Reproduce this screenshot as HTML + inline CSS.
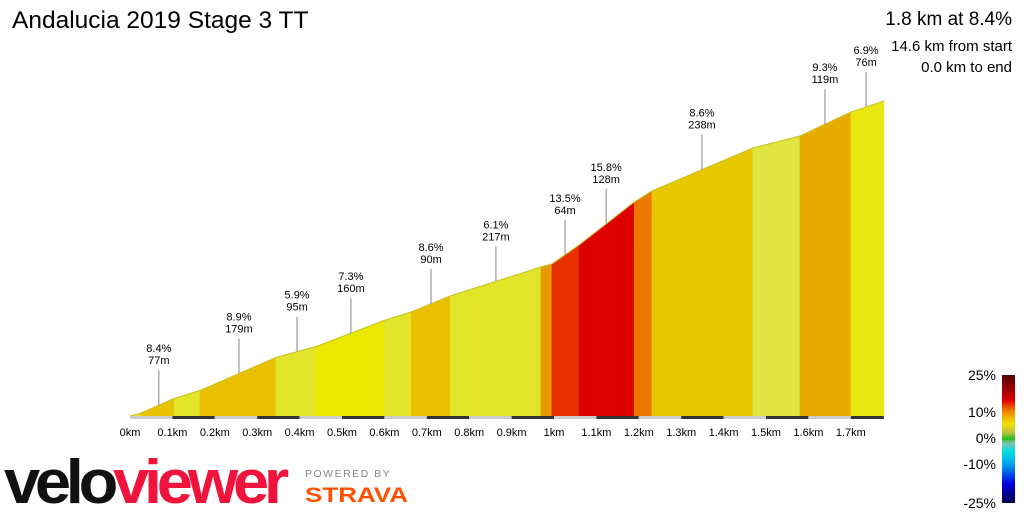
<!DOCTYPE html>
<html><head><meta charset="utf-8">
<style>
html,body{margin:0;padding:0;background:#fff;width:1024px;height:512px;overflow:hidden;font-family:"Liberation Sans",sans-serif}
</style></head>
<body>
<svg id="chart" width="1024" height="512" viewBox="0 0 1024 512" xmlns="http://www.w3.org/2000/svg" font-family="Liberation Sans, sans-serif">
<defs>
<linearGradient id="grad" x1="0" y1="1" x2="0" y2="0">
<stop offset="0" stop-color="#00004a"/>
<stop offset="0.15" stop-color="#0000e0"/>
<stop offset="0.3" stop-color="#00a0f0"/>
<stop offset="0.4" stop-color="#00e0e0"/>
<stop offset="0.47" stop-color="#80c0b0"/>
<stop offset="0.5" stop-color="#20c020"/>
<stop offset="0.55" stop-color="#c0c040"/>
<stop offset="0.62" stop-color="#f0e000"/>
<stop offset="0.72" stop-color="#f08000"/>
<stop offset="0.8" stop-color="#e00000"/>
<stop offset="1" stop-color="#500000"/>
</linearGradient>
</defs>
<text x="12" y="28" font-size="24.5" fill="#000">Andalucia 2019 Stage 3 TT</text>
<text x="1012" y="25" font-size="19" text-anchor="end" fill="#000">1.8 km at 8.4%</text>
<text x="1012" y="51" font-size="15" text-anchor="end" fill="#000">14.6 km from start</text>
<text x="1012" y="72" font-size="15" text-anchor="end" fill="#000">0.0 km to end</text>
<g id="profile"></g>
<g id="axis"></g>
<g id="labels"></g>
<g>
<rect x="1002" y="375" width="13" height="128" fill="url(#grad)"/>
<text x="996" y="380" font-size="14" text-anchor="end">25%</text>
<text x="996" y="417" font-size="14" text-anchor="end">10%</text>
<text x="996" y="443" font-size="14" text-anchor="end">0%</text>
<text x="996" y="469" font-size="14" text-anchor="end">-10%</text>
<text x="996" y="508" font-size="14" text-anchor="end">-25%</text>
</g>
<g>
<text x="4" y="503" font-size="62" font-weight="bold" letter-spacing="-5" textLength="280" lengthAdjust="spacingAndGlyphs"><tspan fill="#111">velo</tspan><tspan fill="#f0143c">viewer</tspan></text>
</g>
<text x="305" y="477" font-size="10.5" fill="#888" letter-spacing="1.5">POWERED BY</text>
<text x="305" y="502" font-size="21" font-weight="bold" fill="#fc5200" textLength="103" lengthAdjust="spacingAndGlyphs">STRAVA</text>
</svg>
<script>
const distKm = [0,0.026,0.104,0.165,0.344,0.439,0.599,0.663,0.755,0.969,0.995,1.059,1.189,1.231,1.469,1.580,1.700,1.778];
const elevM = [0,1.4,8.3,12.1,27.8,33.0,45.4,49.4,57.0,70.8,72.2,81.2,101.6,106.9,127.3,133.0,144.4,149.6];
const segColors = ["#e2e040","#e8c400","#e3e52b","#e8c000","#e3e52b","#ebe800","#e3e52b","#e8c000","#e3e52b","#e89a00","#e83000","#de0000","#ec7800","#e8c800","#e0e540","#e8ac00","#e8e810"];
const tickKm = [0,0.1,0.2,0.3,0.4,0.5,0.6,0.7,0.8,0.9,1,1.1,1.2,1.3,1.4,1.5,1.6,1.7];
const tickLabels = ["0km","0.1km","0.2km","0.3km","0.4km","0.5km","0.6km","0.7km","0.8km","0.9km","1km","1.1km","1.2km","1.3km","1.4km","1.5km","1.6km","1.7km"];
const markKm = [0.068,0.257,0.394,0.521,0.710,0.863,1.026,1.123,1.349,1.639,1.736];
const markPct = ["8.4%","8.9%","5.9%","7.3%","8.6%","6.1%","13.5%","15.8%","8.6%","9.3%","6.9%"];
const markLen = ["77m","179m","95m","160m","90m","217m","64m","128m","238m","119m","76m"];

const NS="http://www.w3.org/2000/svg";
const X0=130, KPX=424, Y0=416, MPX=2.105;
const xs=d=>X0+d*KPX;
const ys=e=>Y0-e*MPX;
function elevAt(d){for(let i=0;i<distKm.length-1;i++){if(d<=distKm[i+1]){const t=(d-distKm[i])/(distKm[i+1]-distKm[i]);return elevM[i]+t*(elevM[i+1]-elevM[i]);}}return elevM[elevM.length-1];}
function mk(tag,attrs,parent){const e=document.createElementNS(NS,tag);for(const k in attrs)e.setAttribute(k,attrs[k]);parent.appendChild(e);return e;}
const prof=document.getElementById('profile');
for(let i=0;i<distKm.length-1;i++){
 const p=mk('polygon',{points:`${xs(distKm[i])},${Y0} ${xs(distKm[i])},${ys(elevM[i])} ${xs(distKm[i+1])},${ys(elevM[i+1])} ${xs(distKm[i+1])},${Y0}`,fill:segColors[i],stroke:segColors[i],'stroke-width':0.5},prof);
 
 
}
const outline=mk('polyline',{points:distKm.map((d,i)=>xs(d)+','+ys(elevM[i])).join(' '),fill:'none',stroke:'#c8c020','stroke-width':1},prof);


const ax=document.getElementById('axis');
const endKm=distKm[distKm.length-1];
for(let i=0;i<tickKm.length;i++){
 const a=tickKm[i], b=Math.min(a+0.1,endKm);
 const r=mk('rect',{x:xs(a),y:Y0,width:xs(b)-xs(a),height:3,fill:i%2?'#333':'#ccc'},ax);
 
 
 const t=mk('text',{x:xs(a),y:436,'font-size':11,'text-anchor':'middle',fill:'#000'},ax);
 t.textContent=tickLabels[i];
 
 
}
const lb=document.getElementById('labels');
for(let i=0;i<markKm.length;i++){
 const x=xs(markKm[i]), yp=ys(elevAt(markKm[i]));
 const l=mk('line',{x1:x,y1:yp,x2:x,y2:yp-35,stroke:'#999','stroke-width':1.2},lb);
 
 
 const t1=mk('text',{x:x,y:yp-53,'font-size':11,'text-anchor':'middle',fill:'#000'},lb);
 t1.textContent=markPct[i];
 
 
 const t2=mk('text',{x:x,y:yp-41,'font-size':11,'text-anchor':'middle',fill:'#000'},lb);
 t2.textContent=markLen[i];
 
 
}
</script>
</body></html>
